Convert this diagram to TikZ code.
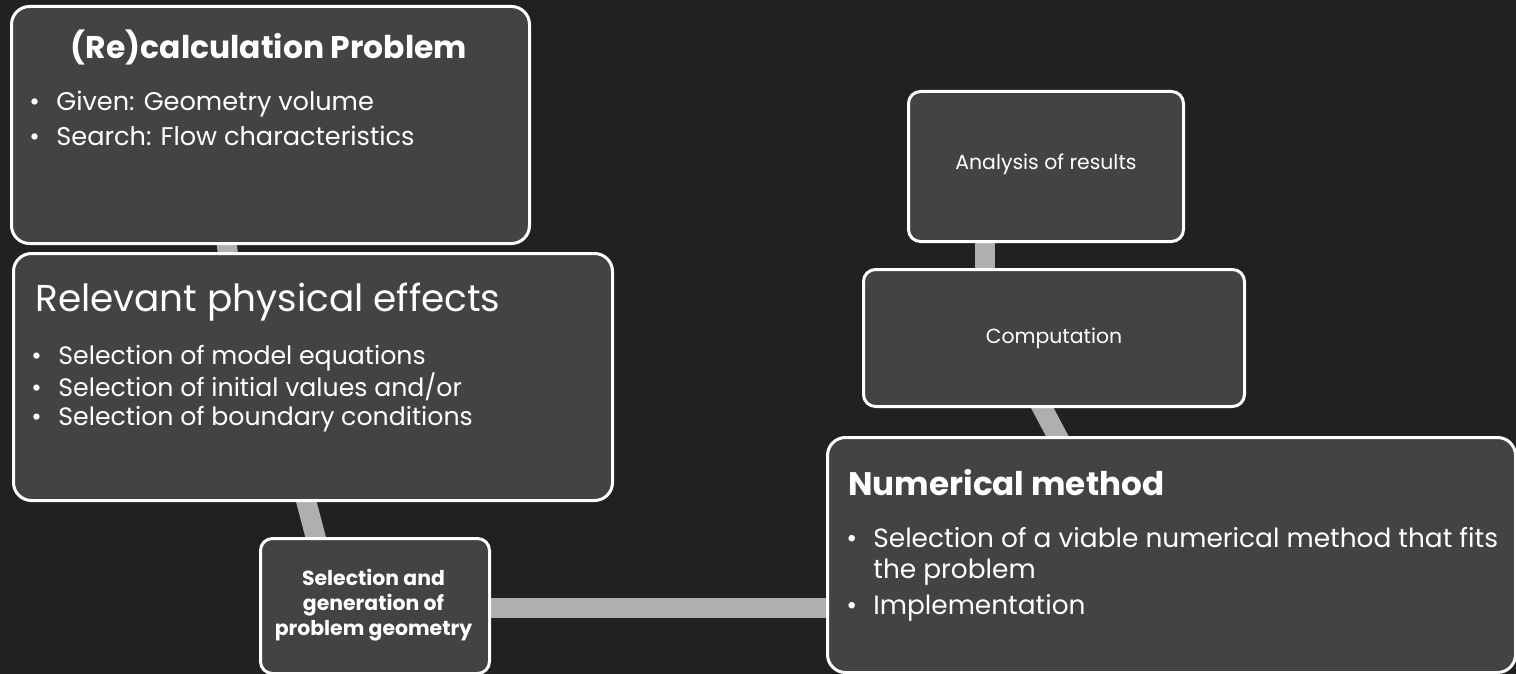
\documentclass[tikz,border=0pt]{standalone}
\usepackage{fontspec}
\setmainfont{Poppins}
\usetikzlibrary{calc}
\pgfdeclarelayer{bg}
\pgfsetlayers{bg,main}
\definecolor{bgdark}{HTML}{212121}
\definecolor{boxgray}{HTML}{434343}
\definecolor{linkgray}{HTML}{AFAFAF}
\newcommand{\bul}{\makebox[13.5pt][l]{\textbullet}}
\begin{document}
\begin{tikzpicture}[x=0.5pt, y=-0.5pt,
  every node/.style={text=white, inner sep=0pt},
  card/.style={draw=white, line width=1.5pt, fill=boxgray, rounded corners=9pt, anchor=north west},
  link/.style={draw=linkgray, line width=10pt}]
  \useasboundingbox (0,0) rectangle (1516,674);

  % Boxes
  \node[card, minimum width=259pt, minimum height=118.5pt] (recalc) at (10,5) {};
  \node[card, minimum width=299.5pt, minimum height=123.5pt] (relevant) at (12,252) {};
  \node[card, minimum width=114.5pt, minimum height=67.5pt, rounded corners=6pt] (select) at (259,537) {};
  \node[card, minimum width=344pt, minimum height=117.5pt] (numeric) at (826,436) {};
  \node[card, minimum width=190.5pt, minimum height=68.5pt, rounded corners=6pt] (compute) at (862,268) {};
  \node[card, minimum width=137.5pt, minimum height=75pt, rounded corners=6pt] (analysis) at (907,90) {};

  % Background and connectors
  \begin{pgfonlayer}{bg}
    \fill[bgdark] (0,0) rectangle (1516,674);
    \draw[link] ($(recalc.south)+(-45,-10)$) -- ($(relevant.north)+(-84,10)$);
    \draw[link] ($(relevant.south)+(-9.25,-10)$) -- ($(select.north)+(-56.75,10)$);
    \draw[link] ($(select.east)+(-10,2)$) -- ($(numeric.west)+(10,53)$);
    \draw[link] ($(numeric.north)+(-109,10)$) -- ($(compute.south)+(-17,-10)$);
    \draw[link] ($(compute.north)+(-69.5,10)$) -- ($(analysis.south)+(-61.5,-10)$);
  \end{pgfonlayer}

  % Texts
  \node[anchor=base, font=\bfseries\fontsize{15.7}{18}\selectfont] (recalc-t) at (269,59) {(Re)calculation Problem};
  \node[anchor=base west, font=\fontsize{12.8}{17.5}\selectfont] (recalc-b) at (29,111)
    {\begin{tabular}[t]{@{}l@{}}\bul Given: Geometry volume\\ \bul Search: Flow characteristics\end{tabular}};

  \node[anchor=base west, font=\fontsize{18.7}{21}\selectfont] (relevant-t) at (35,311) {Relevant physical effects};
  \node[anchor=base west, font=\fontsize{12.6}{14.5}\selectfont] (relevant-b) at (31,364)
    {\begin{tabular}[t]{@{}l@{}}\bul Selection of model equations\\ \bul Selection of initial values and/or\\ \bul Selection of boundary conditions\end{tabular}};

  \node[anchor=center, align=center, font=\bfseries\fontsize{10.2}{12.5}\selectfont] (select-t) at (373.5,605.5) {Selection and\\ generation of\\ problem geometry};

  \node[anchor=base west, font=\bfseries\fontsize{16.3}{19}\selectfont] (numeric-t) at (848,495) {Numerical method};
  \node[anchor=base west, font=\fontsize{13.2}{15.5}\selectfont] (numeric-b) at (846,547)
    {\begin{tabular}[t]{@{}l@{}}\bul Selection of a viable numerical method that fits\\ \hspace{13.5pt}the problem\\[2.5pt] \bul Implementation\end{tabular}};

  \node[font=\fontsize{10.2}{12}\selectfont] (compute-t) at (compute.center) {Computation};
  \node[font=\fontsize{10.2}{12}\selectfont] (analysis-t) at ($(analysis.center)+(0,-2)$) {Analysis of results};
\end{tikzpicture}
\end{document}
